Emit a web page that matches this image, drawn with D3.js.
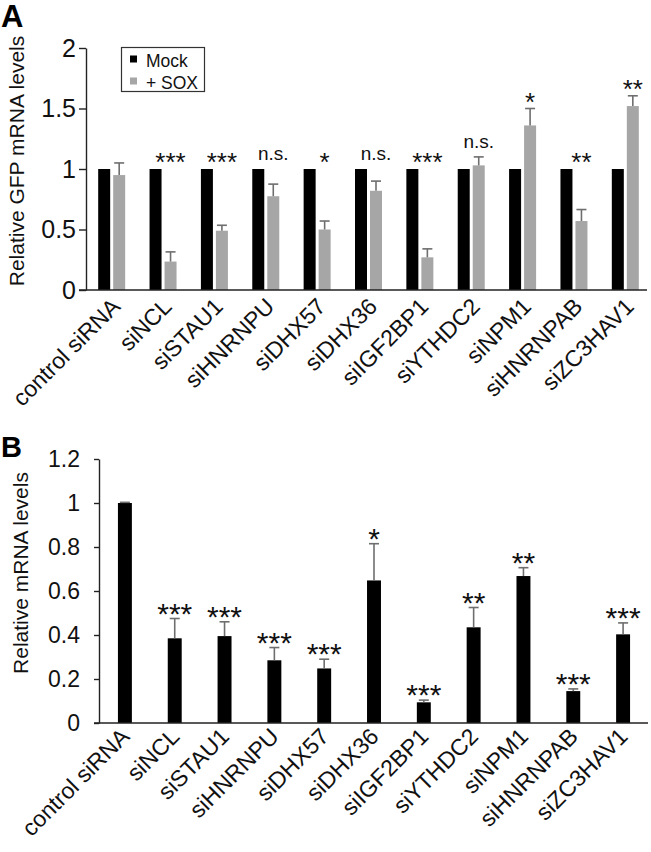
<!DOCTYPE html>
<html><head><meta charset="utf-8">
<script src="https://cdn.jsdelivr.net/npm/d3@7"></script>
<style>
html,body{margin:0;padding:0;background:#fff;}
svg{display:block;font-family:"Liberation Sans",Arial,sans-serif;}
</style></head>
<body><svg id="chart" width="651" height="852"></svg>
<script>
const categories = ["control siRNA","siNCL","siSTAU1","siHNRNPU","siDHX57","siDHX36","siIGF2BP1","siYTHDC2","siNPM1","siHNRNPAB","siZC3HAV1"];
const seriesA = ["Mock","+ SOX"];
const mockA = [1,1,1,1,1,1,1,1,1,1,1];
const soxA = [0.95,0.235,0.49,0.775,0.50,0.82,0.27,1.03,1.36,0.57,1.52];
const soxErrA = [0.10,0.08,0.045,0.10,0.07,0.08,0.07,0.07,0.14,0.095,0.085];
const sigA = ["","***","***","n.s.","*","n.s.","***","n.s.","*","**","**"];
const valuesB = [1.0,0.385,0.395,0.285,0.248,0.648,0.094,0.435,0.668,0.145,0.403];
const errB = [0.003,0.09,0.065,0.058,0.042,0.167,0.01,0.09,0.038,0.01,0.052];
const sigB = ["","***","***","***","***","*","***","**","**","***","***"];
const ticksA = [0,0.5,1,1.5,2];
const tickLabelsA = ["0","0.5","1","1.5","2"];
const ticksB = [0,0.2,0.4,0.6,0.8,1,1.2];
const tickLabelsB = ["0","0.2","0.4","0.6","0.8","1","1.2"];

const svg = d3.select("#chart");
const AX = "#222", GRAY = "#a6a6a6", ERR = "#6e6e6e";

// ---------- Panel A ----------
const yA = d3.scaleLinear().domain([0,2]).range([290,48]);
const xA = d3.scaleBand().domain(categories).range([86,651]).paddingInner(0).paddingOuter(0);
const subA = d3.scaleBand().domain(seriesA).range([-13.5,13.5]).paddingInner(0.2);
const gA = svg.append("g");
const dataA = categories.map((c,i)=>({c, mock:mockA[i], sox:soxA[i], err:soxErrA[i], sig:sigA[i]}));
const cxA = c => xA(c) + xA.bandwidth()/2;

gA.selectAll("rect.mock").data(dataA).join("rect")
  .attr("x", d=>cxA(d.c)+subA("Mock")).attr("width", subA.bandwidth())
  .attr("y", d=>yA(d.mock)).attr("height", d=>yA(0)-yA(d.mock)).attr("fill","#000");
gA.selectAll("rect.sox").data(dataA).join("rect")
  .attr("x", d=>cxA(d.c)+subA("+ SOX")).attr("width", subA.bandwidth())
  .attr("y", d=>yA(d.sox)).attr("height", d=>yA(0)-yA(d.sox)).attr("fill",GRAY);
const soxMid = d => cxA(d.c)+subA("+ SOX")+subA.bandwidth()/2;
gA.selectAll("line.ev").data(dataA).join("line")
  .attr("x1",soxMid).attr("x2",soxMid).attr("y1",d=>yA(d.sox)).attr("y2",d=>yA(d.sox+d.err))
  .attr("stroke",ERR).attr("stroke-width",1.6);
gA.selectAll("line.ec").data(dataA).join("line")
  .attr("x1",d=>soxMid(d)-5).attr("x2",d=>soxMid(d)+5).attr("y1",d=>yA(d.sox+d.err)).attr("y2",d=>yA(d.sox+d.err))
  .attr("stroke",ERR).attr("stroke-width",1.6);
gA.selectAll("text.sig").data(dataA.filter(d=>d.sig)).join("text")
  .attr("x", soxMid)
  .attr("y", d=>{const a=Math.max(d.mock,d.sox+d.err); return d.sig==="n.s." ? yA(a)-9 : yA(a)+2;})
  .attr("text-anchor","middle")
  .attr("font-size", d=>d.sig==="n.s." ? 19 : 26)
  .attr("fill","#111").text(d=>d.sig);
const axA = d3.axisLeft(yA).tickValues(ticksA).tickFormat((d,i)=>tickLabelsA[i]).tickSize(7).tickSizeOuter(0).tickPadding(3);
const gAy = gA.append("g").attr("transform","translate(86,0)").call(axA);
gAy.selectAll("path,line").attr("stroke",AX).attr("stroke-width",1.4);
gAy.selectAll("text").attr("font-size",25).attr("fill","#111").attr("font-family","Liberation Sans, Arial, sans-serif");
gA.append("line").attr("x1",79).attr("x2",647).attr("y1",yA(0)).attr("y2",yA(0)).attr("stroke",AX).attr("stroke-width",1.4);
gA.selectAll("text.xl").data(categories).join("text")
  .attr("transform", c=>`translate(${cxA(c)+10},${yA(0)+18}) rotate(-45)`)
  .attr("text-anchor","end").attr("font-size",23).attr("fill","#111").text(c=>c);
gA.append("text").attr("transform","translate(24,161) rotate(-90)").attr("text-anchor","middle")
  .attr("font-size",21).attr("fill","#111").text("Relative GFP mRNA levels");
svg.append("text").attr("x",1).attr("y",27).attr("font-size",31).attr("font-weight","bold").text("A");
const lg = svg.append("g");
lg.append("rect").attr("x",121.5).attr("y",47.5).attr("width",83).attr("height",44).attr("fill","#fff").attr("stroke","#333").attr("stroke-width",1.2);
seriesA.forEach((s,i)=>{
  lg.append("rect").attr("x",130).attr("y",55.5+i*22).attr("width",7).attr("height",7).attr("fill", i===0?"#000":GRAY);
  lg.append("text").attr("x",146).attr("y",66.5+i*22).attr("font-size",17.5).attr("fill","#111").text(s);
});

// ---------- Panel B ----------
const yB = d3.scaleLinear().domain([0,1.2]).range([723,459]);
const xB = d3.scaleBand().domain(categories).range([100,648]).paddingInner(0.72).paddingOuter(0.36);
const gB = svg.append("g");
const dataB = categories.map((c,i)=>({c, v:valuesB[i], e:errB[i], sig:sigB[i]}));
const cxB = c => xB(c)+xB.bandwidth()/2;
gB.selectAll("rect").data(dataB).join("rect")
  .attr("x", d=>xB(d.c)).attr("width", xB.bandwidth())
  .attr("y", d=>yB(d.v)).attr("height", d=>yB(0)-yB(d.v)).attr("fill","#000");
gB.selectAll("line.ev").data(dataB).join("line")
  .attr("x1",d=>cxB(d.c)).attr("x2",d=>cxB(d.c)).attr("y1",d=>yB(d.v)).attr("y2",d=>yB(d.v+d.e))
  .attr("stroke",ERR).attr("stroke-width",1.6);
gB.selectAll("line.ec").data(dataB).join("line")
  .attr("x1",d=>cxB(d.c)-5).attr("x2",d=>cxB(d.c)+5).attr("y1",d=>yB(d.v+d.e)).attr("y2",d=>yB(d.v+d.e))
  .attr("stroke",ERR).attr("stroke-width",1.6);
gB.selectAll("text.sig").data(dataB.filter(d=>d.sig)).join("text")
  .attr("x", d=>cxB(d.c)).attr("y", d=>yB(d.v+d.e)+5)
  .attr("text-anchor","middle").attr("font-size",30).attr("fill","#111").text(d=>d.sig);
const axB = d3.axisLeft(yB).tickValues(ticksB).tickFormat((d,i)=>tickLabelsB[i]).tickSize(5).tickSizeOuter(0).tickPadding(14);
const gBy = gB.append("g").attr("transform","translate(99,0)").call(axB);
gBy.selectAll("path,line").attr("stroke",AX).attr("stroke-width",1.4);
gBy.selectAll("text").attr("font-size",23).attr("fill","#111").attr("font-family","Liberation Sans, Arial, sans-serif");
gB.append("line").attr("x1",94).attr("x2",648).attr("y1",yB(0)).attr("y2",yB(0)).attr("stroke",AX).attr("stroke-width",1.4);
gB.selectAll("text.xl").data(categories).join("text")
  .attr("transform", c=>`translate(${cxB(c)+6},${yB(0)+15}) rotate(-45)`)
  .attr("text-anchor","end").attr("font-size",23).attr("fill","#111").text(c=>c);
gB.append("text").attr("transform","translate(28,573) rotate(-90)").attr("text-anchor","middle")
  .attr("font-size",21).attr("fill","#111").text("Relative mRNA levels");
svg.append("text").attr("x",1).attr("y",457).attr("font-size",29).attr("font-weight","bold").text("B");
</script>
</body></html>
